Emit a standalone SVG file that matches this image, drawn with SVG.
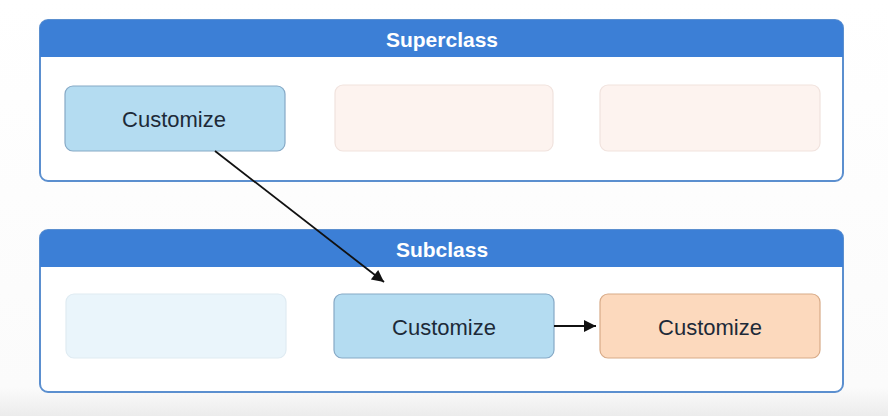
<svg xmlns="http://www.w3.org/2000/svg" width="888" height="416" viewBox="0 0 888 416">
<defs>
<linearGradient id="bg" x1="0" y1="0" x2="0" y2="1">
<stop offset="0" stop-color="#ffffff"/>
<stop offset="0.93" stop-color="#fbfbfb"/>
<stop offset="1" stop-color="#ececec"/>
</linearGradient>
<marker id="arr2" viewBox="0 0 10 10" refX="10" refY="5" markerWidth="16" markerHeight="12" markerUnits="userSpaceOnUse" orient="auto">
<path d="M0,0 L10,5 L0,10 z" fill="#111"/>
</marker>
</defs>
<style>
.panel{fill:#ffffff;stroke:#5b8fcf;stroke-width:2}
.hdr{fill:#3c7fd6}
.htxt{font-family:"Liberation Sans",Arial,sans-serif;font-weight:bold;font-size:21px;fill:#ffffff;text-anchor:middle}
.blue{fill:#b4dcf1;stroke:#86a9c6;stroke-width:1.2}
.orange{fill:#fcd9bd;stroke:#d8ab88;stroke-width:1.2}
.fadeo{fill:#fdf3ef;stroke:#f1e3de;stroke-width:1.2}
.fadeb{fill:#eaf5fb;stroke:#dfebf2;stroke-width:1.2}
.btxt{font-family:"Liberation Sans",Arial,sans-serif;font-size:22px;fill:#1d2a38;text-anchor:middle}
.conn{stroke:#111;stroke-width:1.8;fill:none}
</style>
<rect x="0" y="0" width="888" height="416" fill="url(#bg)"/>
<g id="superclass">
<rect class="panel" x="40" y="20" width="803" height="161" rx="8"/>
<path class="hdr" d="M40,28 a8,8 0 0 1 8,-8 h787 a8,8 0 0 1 8,8 v29 h-803 z"/>
<text class="htxt" x="442" y="47">Superclass</text>
</g>
<g id="super-customize">
<rect class="blue" x="65" y="86" width="220" height="65" rx="8"/>
<text class="btxt" x="174" y="127">Customize</text>
</g>
<g id="super-empty1">
<rect class="fadeo" x="335" y="85" width="218" height="66" rx="8"/>
</g>
<g id="super-empty2">
<rect class="fadeo" x="600" y="85" width="220" height="66" rx="8"/>
</g>
<g id="subclass">
<rect class="panel" x="40" y="230" width="803" height="162" rx="8"/>
<path class="hdr" d="M40,238 a8,8 0 0 1 8,-8 h787 a8,8 0 0 1 8,8 v29 h-803 z"/>
<text class="htxt" x="442" y="257">Subclass</text>
</g>
<g id="sub-empty">
<rect class="fadeb" x="66" y="294" width="220" height="64" rx="8"/>
</g>
<g id="sub-customize">
<rect class="blue" x="334" y="294" width="220" height="64" rx="8"/>
<text class="btxt" x="444" y="335">Customize</text>
</g>
<g id="sub-customize-override">
<rect class="orange" x="600" y="294" width="220" height="64" rx="8"/>
<text class="btxt" x="710" y="335">Customize</text>
</g>
<g id="connectors">
<line class="conn" x1="215" y1="151" x2="384" y2="282" marker-end="url(#arr2)"/>
<line class="conn" x1="554" y1="326" x2="596" y2="326" marker-end="url(#arr2)"/>
</g>
</svg>
